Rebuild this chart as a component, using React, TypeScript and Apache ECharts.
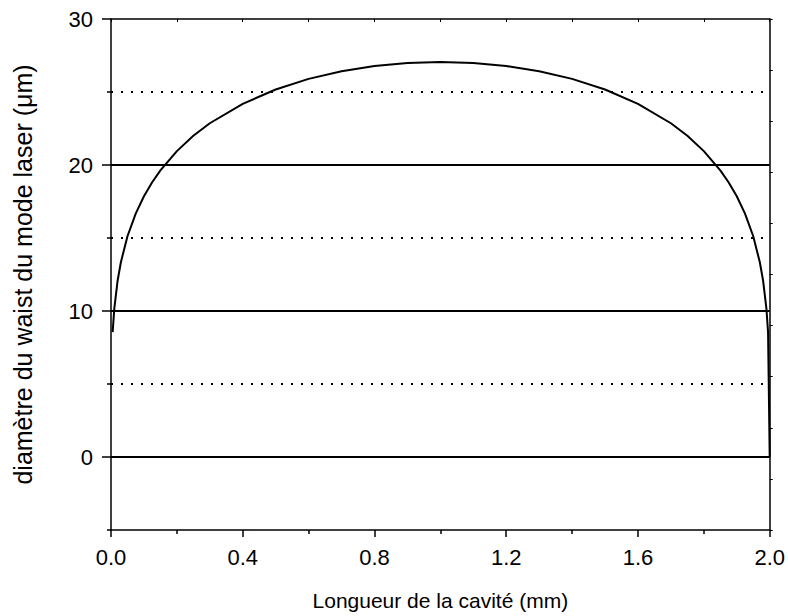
import React, { useEffect, useRef } from "react";
import * as echarts from "echarts";

const lengthMm = [0.005, 0.01, 0.02, 0.03, 0.05, 0.075, 0.1, 0.125, 0.15, 0.2, 0.25, 0.3, 0.4, 0.5, 0.6, 0.7, 0.8, 0.9, 1.0, 1.1, 1.2, 1.3, 1.4, 1.5, 1.6, 1.7, 1.75, 1.8, 1.85, 1.875, 1.9, 1.925, 1.95, 1.97, 1.98, 1.99, 1.995, 2.0];
const waistUm = [8.55, 10.16, 12.07, 13.34, 15.12, 16.67, 17.86, 18.82, 19.63, 20.95, 22.0, 22.86, 24.19, 25.17, 25.9, 26.42, 26.78, 26.98, 27.05, 26.98, 26.78, 26.42, 25.9, 25.17, 24.19, 22.86, 22.0, 20.95, 19.63, 18.82, 17.86, 16.67, 15.12, 13.34, 12.07, 10.16, 8.55, 0];

const yMajorTicks = [0, 10, 20, 30];
const yMinorTicks = [-5, 5, 15, 25];
const solidGridValues = [0, 10, 20];
const dottedGridValues = [5, 15, 25];

const FONT = "'Liberation Sans', Arial, Helvetica, sans-serif";

export default function App() {
  const ref = useRef<HTMLDivElement>(null);
  useEffect(() => {
    if (!ref.current) return;
    const chart = echarts.init(ref.current, undefined, { renderer: "svg" });
    const black = "#000";
    const option: any = {
      animation: false,
      backgroundColor: "#fff",
      textStyle: { fontFamily: FONT, color: black },
      grid: { left: 111, right: 17, top: 19, bottom: 86, containLabel: false },
      xAxis: [
        {
          type: "value",
          position: "bottom",
          min: 0,
          max: 2,
          interval: 0.4,
          name: "Longueur de la cavité (mm)",
          nameLocation: "middle",
          nameGap: 60,
          nameTextStyle: { fontSize: 21, color: black, fontFamily: FONT },
          axisLine: { show: true, onZero: false, lineStyle: { color: black, width: 1.5 } },
          axisTick: { show: true, inside: false, length: 7, lineStyle: { color: black, width: 1.5 } },
          minorTick: { show: true, splitNumber: 2, length: 4, lineStyle: { color: black, width: 1.5 } },
          axisLabel: { fontSize: 22, color: black, margin: 16, fontFamily: FONT, formatter: (v: number) => v.toFixed(1) },
          splitLine: { show: false },
          minorSplitLine: { show: false },
        },
        {
          type: "value",
          position: "top",
          min: 0,
          max: 2,
          interval: 0.2,
          axisLine: { show: true, onZero: false, lineStyle: { color: black, width: 1.5 } },
          axisTick: { show: true, inside: true, length: 3, lineStyle: { color: black, width: 1 } },
          axisLabel: { show: false },
          splitLine: { show: false },
        },
      ],
      yAxis: [
        {
          type: "value",
          position: "left",
          min: -5,
          max: 30,
          interval: 5,
          name: "diamètre du waist du mode laser (μm)",
          nameLocation: "middle",
          nameGap: 76,
          nameTextStyle: { fontSize: 25, color: black, fontFamily: FONT },
          axisLine: { show: true, onZero: false, lineStyle: { color: black, width: 1.5 } },
          axisTick: { show: true, inside: false, length: 9, customValues: yMajorTicks, lineStyle: { color: black, width: 1.5 } },
          axisLabel: { fontSize: 22, color: black, margin: 18, fontFamily: FONT, customValues: yMajorTicks },
          splitLine: { show: false },
        },
        {
          type: "value",
          position: "left",
          min: -5,
          max: 30,
          interval: 5,
          axisLine: { show: false, onZero: false },
          axisTick: { show: true, inside: false, length: 4, customValues: yMinorTicks, lineStyle: { color: black, width: 1.5 } },
          axisLabel: { show: false },
          splitLine: { show: false },
        },
        {
          type: "value",
          position: "right",
          min: 0,
          max: 10,
          interval: 1,
          axisLine: { show: true, onZero: false, lineStyle: { color: black, width: 1.5 } },
          axisTick: { show: true, inside: false, length: 3, lineStyle: { color: black, width: 1 } },
          axisLabel: { show: false },
          splitLine: { show: false },
        },
      ],
      series: [
        {
          type: "line",
          xAxisIndex: 0,
          yAxisIndex: 0,
          data: lengthMm.map((x, i) => [x, waistUm[i]]),
          showSymbol: false,
          symbol: "none",
          lineStyle: { color: black, width: 2 },
          silent: true,
          z: 3,
          markLine: {
            silent: true,
            symbol: "none",
            label: { show: false },
            animation: false,
            z: 2,
            data: [
              ...solidGridValues.map((v) => ({ yAxis: v, lineStyle: { color: black, width: 2, type: "solid" } })),
              ...dottedGridValues.map((v) => ({ yAxis: v, lineStyle: { color: black, width: 2, type: [2, 8] } })),
            ],
          },
        },
      ],
    };
    chart.setOption(option);
    return () => chart.dispose();
  }, []);
  return <div ref={ref} style={{ position: "fixed", left: 0, top: 0, width: 788, height: 616 }} />;
}
